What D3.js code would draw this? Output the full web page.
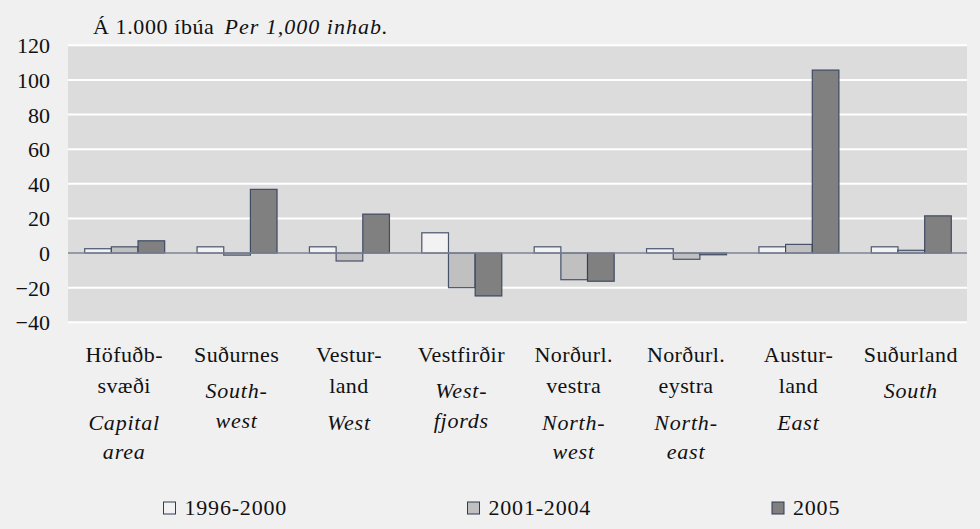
<!doctype html>
<html>
<head>
<meta charset="UTF-8">
<title>Per 1,000 inhab.</title>
<script src="https://d3js.org/d3.v7.min.js"></script>
<style>
  body { margin: 0; background: #f0f0f0; }
  svg { display: block; }
  text { font-family: "Liberation Serif", "Times New Roman", serif; fill: #111; }
</style>
</head>
<body>
<svg id="chart" width="980" height="529"></svg>
<script>
// data
var regionsIS = [["Höfuðb-", "svæði"], ["Suðurnes"], ["Vestur-", "land"], ["Vestfirðir"],
                 ["Norðurl.", "vestra"], ["Norðurl.", "eystra"], ["Austur-", "land"], ["Suðurland"]];
var regionsEN = [["Capital", "area"], ["South-", "west"], ["West"], ["West-", "fjords"],
                 ["North-", "west"], ["North-", "east"], ["East"], ["South"]];
var seriesNames = ["1996-2000", "2001-2004", "2005"];
var v1996 = [2.5, 3.6, 3.6, 11.7, 3.6, 2.5, 3.6, 3.6];
var v2001 = [3.6, -1.2, -4.6, -20.0, -15.4, -3.6, 5.0, 1.6];
var v2005 = [7.1, 36.8, 22.5, -24.8, -16.3, -1.0, 105.7, 21.5];
var yTicks = [120, 100, 80, 60, 40, 20, 0, -20, -40];

var fills = ["#f2f2f2", "#c0c0c0", "#808080"];
var series = [v1996, v2001, v2005];

var svg = d3.select("#chart");
var plotLeft = 68, plotRight = 967, plotTop = 45.3, plotBottom = 322.3;

var x = d3.scaleBand().domain(d3.range(regionsIS.length)).range([plotLeft, plotRight]);
var x1 = d3.scaleBand().domain(d3.range(3)).range([0, 80]);
var y = d3.scaleLinear().domain([-40, 120]).range([plotBottom, plotTop]);

// plot background
svg.append("rect")
    .attr("x", plotLeft).attr("y", y(120))
    .attr("width", plotRight - plotLeft).attr("height", y(-40) - y(120))
    .attr("fill", "#dcdcdc");

// gridlines
svg.selectAll(".grid")
    .data(yTicks.filter(function(d) { return d !== 0; }))
    .enter().append("line")
        .attr("class", "grid")
        .attr("x1", plotLeft).attr("x2", plotRight)
        .attr("y1", function(d) { return y(d); })
        .attr("y2", function(d) { return y(d); })
        .attr("stroke", "#fff")
        .attr("stroke-width", 2);

// y axis labels
var yAxis = d3.axisLeft(y).tickValues(yTicks).tickSize(0).tickPadding(0);
var ga = svg.append("g").attr("transform", "translate(50,0)").call(yAxis);
ga.select(".domain").remove();
ga.selectAll("text")
    .attr("font-size", 22)
    .attr("fill", "#111")
    .attr("dy", "0.34em");

// bars
series.forEach(function(vals, s) {
    svg.selectAll(".bar" + s)
        .data(vals)
        .enter().append("rect")
            .attr("class", "bar" + s)
            .attr("x", function(d, i) { return x(i) + (x.bandwidth() - 80) / 2 + x1(s) + 0.5; })
            .attr("y", function(d) { return Math.min(y(d), y(0)); })
            .attr("width", x1.bandwidth())
            .attr("height", function(d) { return Math.abs(y(d) - y(0)); })
            .attr("fill", fills[s])
            .attr("stroke", "#2e3b58")
            .attr("stroke-opacity", 0.85)
            .attr("stroke-width", 1.2);
});

// zero line
svg.append("line")
    .attr("x1", plotLeft).attr("x2", plotRight)
    .attr("y1", y(0)).attr("y2", y(0))
    .attr("stroke", "#7d8597")
    .attr("stroke-width", 1.5);

// title
var title = svg.append("text").attr("x", 93).attr("y", 34).attr("font-size", 22);
title.append("tspan").attr("letter-spacing", 0.6).text("Á 1.000 íbúa ");
title.append("tspan").attr("font-style", "italic").attr("letter-spacing", 1).attr("dx", 4).text("Per 1,000 inhab.");

// category labels
regionsIS.forEach(function(lines, i) {
    var cx = x(i) + x.bandwidth() / 2;
    var g = svg.append("g");
    lines.forEach(function(t, j) {
        g.append("text")
            .attr("x", cx).attr("y", 361.7 + j * 31.5)
            .attr("text-anchor", "middle")
            .attr("font-size", 22)
            .attr("letter-spacing", 0.4)
            .text(t);
    });
    var enStart = 361.7 + (lines.length - 1) * 31.5 + 36.5;
    regionsEN[i].forEach(function(t, j) {
        g.append("text")
            .attr("x", cx).attr("y", enStart + j * 29.5)
            .attr("text-anchor", "middle")
            .attr("font-size", 22)
            .attr("font-style", "italic")
            .attr("letter-spacing", 0.8)
            .text(t);
    });
});

// legend
var legendX = [163.5, 467.5, 772];
seriesNames.forEach(function(name, s) {
    svg.append("rect")
        .attr("x", legendX[s]).attr("y", 502)
        .attr("width", 12).attr("height", 12)
        .attr("fill", fills[s])
        .attr("stroke", "#2e3b58")
        .attr("stroke-width", 1);
    svg.append("text")
        .attr("x", legendX[s] + 21).attr("y", 514.5)
        .attr("font-size", 22)
        .attr("letter-spacing", 0.8)
        .text(name);
});
</script>
</body>
</html>
